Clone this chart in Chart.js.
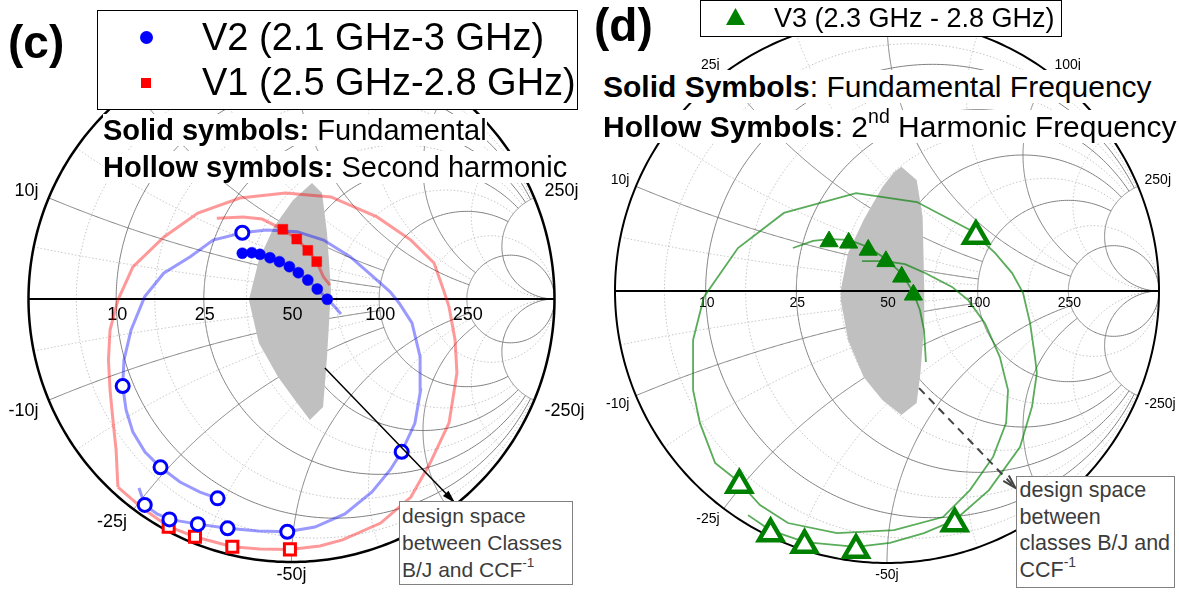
<!DOCTYPE html>
<html>
<head>
<meta charset="utf-8">
<script src="https://cdn.jsdelivr.net/npm/chart.js@4.4.0/dist/chart.umd.min.js"></script>
<style>
  body { margin: 0; background: #fff; font-family: "Liberation Sans", Arial, sans-serif; }
  #page { position: relative; width: 1179px; height: 592px; overflow: hidden; background: #fff; }
  canvas { position: absolute; top: 0; }
  .abs { position: absolute; white-space: nowrap; color: #000; }
  .tag { font-weight: bold; font-size: 46px; line-height: 46px; }
  .legend { background: #fff; border: 1px solid #000; box-sizing: border-box; }
  .note span { background: #fff; }
  .box { border: 1px solid #808080; background: #fff; color: #3c3c3c; box-sizing: border-box; }
  sup { font-size: 65%; line-height: 0; vertical-align: 0.7em; }
</style>
</head>
<body>
<div id="page">
  <canvas id="chartC" width="590" height="592" style="left:0"></canvas>
  <canvas id="chartD" width="589" height="592" style="left:590px"></canvas>

  <!-- panel (c) -->
  <div class="abs tag" style="left:8px; top:19px">(c)</div>
  <div class="abs legend" style="left:97px; top:10px; width:481px; height:100px"></div>
  <div class="abs" style="left:139.5px; top:30.5px; width:13px; height:13px; border-radius:50%; background:#0000ff"></div>
  <div class="abs" style="left:141px; top:78px; width:10px; height:10px; background:#ff0000"></div>
  <div class="abs" style="left:202px; top:17.8px; font-size:38px; line-height:38px">V2 (2.1 GHz-3 GHz)</div>
  <div class="abs" style="left:202px; top:62.8px; font-size:38px; line-height:38px">V1 (2.5 GHz-2.8 GHz)</div>
  <div class="abs note" style="left:103px; top:115.5px; font-size:29px; line-height:29px"><span><b>Solid symbols:</b> Fundamental</span></div>
  <div class="abs note" style="left:103px; top:152.5px; font-size:29px; line-height:29px"><span><b>Hollow symbols:</b> Second harmonic</span></div>
  <div class="abs box" style="left:399px; top:501px; width:174px; height:84px; font-size:21px; line-height:27px; padding-left:2px">
    design space<br>between Classes<br>B/J and CCF<sup>-1</sup>
  </div>

  <!-- panel (d) -->
  <div class="abs tag" style="left:594px; top:2px">(d)</div>
  <div class="abs legend" style="left:700px; top:0; width:362px; height:37px"></div>
  <svg class="abs" style="left:726px; top:8px" width="19" height="17"><polygon points="9.5,0 19,17 0,17" fill="#008000"/></svg>
  <div class="abs" style="left:774px; top:5.1px; font-size:27px; line-height:27px">V3 (2.3 GHz - 2.8 GHz)</div>
  <div class="abs note" style="left:603px; top:71.6px; font-size:30px; line-height:30px"><span><b>Solid Symbols</b>: Fundamental Frequency</span></div>
  <div class="abs note" style="left:603px; top:111.6px; font-size:30px; line-height:30px"><span><b>Hollow Symbols</b>: 2<sup>nd</sup> Harmonic Frequency</span></div>
  <div class="abs box" style="left:1016px; top:476px; width:159px; height:112px; font-size:21.5px; line-height:26.7px; padding-left:2.5px">
    design space<br>between<br>classes B/J and<br>CCF<sup>-1</sup>
  </div>
</div>

<script>
'use strict';

// Smith chart grid (normalised to 50 ohm)
const majorValues = [0.2, 0.5, 1, 2, 5];
const majorResistanceClip = [5, 5, 5, 5, Infinity];
const majorReactanceClip = [2, 2, 5, 5, Infinity];
const minorValues = [0.1, 0.316, 0.707, 1.414, 3.16];
const minorResistanceClip = [5, 5, 5, 5, Infinity];
const minorReactanceClip = [2, 2, 2, 5, Infinity];
const resistanceLabels = ['10', '25', '50', '100', '250'];
const reactanceLabels = ['10j', '25j', '50j', '100j', '250j'];

// panel (c): reflection coefficient readings [re, im]
const v2Fundamental = [[-0.187, 0.174], [-0.151, 0.176], [-0.120, 0.170], [-0.082, 0.157], [-0.046, 0.142],
  [-0.008, 0.123], [0.026, 0.100], [0.062, 0.072], [0.098, 0.038], [0.136, -0.001]];
const v2Harmonic = [[-0.558, -0.783], [-0.464, -0.838], [-0.356, -0.856], [-0.243, -0.872], [-0.016, -0.885],
  [0.419, -0.581], [-0.187, 0.252], [-0.642, -0.331], [-0.498, -0.640], [-0.281, -0.758]];
const v1Fundamental = [[-0.033, 0.265], [0.020, 0.228], [0.062, 0.185], [0.096, 0.142]];
const v1Harmonic = [[-0.467, -0.866], [-0.367, -0.904], [-0.225, -0.942], [-0.006, -0.952]];

const v2FundSweep = [[-0.187, 0.174], [-0.151, 0.176], [-0.120, 0.170], [-0.082, 0.157], [-0.046, 0.142],
  [-0.008, 0.123], [0.026, 0.100], [0.062, 0.072], [0.098, 0.038], [0.136, -0.001], [0.162, -0.027], [0.188, -0.057]];
const v1FundSweep = [[-0.284, 0.307], [-0.184, 0.312], [-0.112, 0.304], [-0.033, 0.265], [0.020, 0.228],
  [0.062, 0.185], [0.096, 0.142], [0.121, 0.085], [0.146, 0.053]];
const v2HarmSweep = [[-0.580, -0.719], [-0.558, -0.783], [-0.511, -0.817], [-0.464, -0.838], [-0.356, -0.856],
  [-0.243, -0.872], [-0.127, -0.882], [-0.016, -0.885], [0.089, -0.867], [0.203, -0.817], [0.306, -0.734],
  [0.375, -0.650], [0.419, -0.581], [0.469, -0.473], [0.491, -0.346], [0.489, -0.219], [0.458, -0.091],
  [0.409, -0.015], [0.375, 0.027], [0.310, 0.085], [0.223, 0.161], [0.122, 0.224], [0.021, 0.256],
  [-0.095, 0.262], [-0.187, 0.252], [-0.298, 0.224], [-0.385, 0.161], [-0.486, 0.098], [-0.558, 0.009],
  [-0.610, -0.118], [-0.637, -0.232], [-0.642, -0.331], [-0.629, -0.422], [-0.603, -0.506], [-0.557, -0.582],
  [-0.498, -0.640], [-0.424, -0.696], [-0.348, -0.734], [-0.281, -0.758]];
const v1HarmSweep = [[-0.660, -0.715], [-0.568, -0.795], [-0.467, -0.866], [-0.367, -0.904], [-0.225, -0.942],
  [-0.120, -0.951], [-0.006, -0.952], [0.108, -0.939], [0.194, -0.916], [0.339, -0.852], [0.454, -0.753],
  [0.527, -0.624], [0.599, -0.471], [0.629, -0.281], [0.622, -0.156], [0.599, -0.030], [0.578, 0.034],
  [0.542, 0.137], [0.454, 0.224], [0.325, 0.312], [0.150, 0.388], [-0.023, 0.403], [-0.196, 0.384],
  [-0.356, 0.327], [-0.485, 0.236], [-0.603, 0.122], [-0.660, -0.004], [-0.690, -0.118], [-0.696, -0.232],
  [-0.690, -0.346], [-0.679, -0.460], [-0.667, -0.574], [-0.660, -0.715]];
const designSpaceC = [[0.078, 0.441], [0.116, 0.403], [0.135, 0.251], [0.150, 0.034], [0.135, -0.221],
  [0.120, -0.411], [0.070, -0.460], [0.021, -0.395], [-0.051, -0.297], [-0.124, -0.167], [-0.162, -0.004],
  [-0.124, 0.148], [-0.067, 0.274], [0.006, 0.376]];
const arrowC = [[0.127, -0.262], [0.622, -0.776]];

// panel (d)
const v3Fundamental = [[-0.213, 0.182], [-0.141, 0.177], [-0.069, 0.151], [-0.004, 0.109], [0.054, 0.052], [0.097, -0.014]];
const v3Harmonic = [[0.327, 0.202], [-0.543, -0.713], [-0.428, -0.892], [-0.303, -0.934], [-0.114, -0.952], [0.249, -0.855]];
const v3FundSweep = [[-0.346, 0.158], [-0.272, 0.184], [-0.213, 0.191], [-0.140, 0.188], [-0.070, 0.162],
  [-0.004, 0.118], [0.055, 0.063], [0.096, -0.004], [0.121, -0.070], [0.136, -0.143], [0.143, -0.261]];
const v3HarmSweep = [[-0.092, 0.110], [-0.007, 0.110], [0.066, 0.099], [0.140, 0.066], [0.239, 0.015],
  [0.298, -0.033], [0.360, -0.118], [0.415, -0.243], [0.445, -0.364], [0.438, -0.485], [0.390, -0.610],
  [0.305, -0.732], [0.206, -0.831], [0.026, -0.879], [-0.184, -0.890], [-0.364, -0.853], [-0.467, -0.787],
  [-0.544, -0.702], [-0.632, -0.632], [-0.688, -0.485], [-0.713, -0.364], [-0.713, -0.180], [-0.673, -0.022],
  [-0.548, 0.158], [-0.379, 0.287], [-0.114, 0.360], [0.110, 0.327], [0.305, 0.224], [0.397, 0.140],
  [0.460, 0.066], [0.500, -0.007], [0.526, -0.118], [0.544, -0.243], [0.551, -0.301], [0.533, -0.426],
  [0.489, -0.574], [0.375, -0.732], [0.250, -0.842], [0.136, -0.890], [0.011, -0.926], [-0.114, -0.941],
  [-0.301, -0.923], [-0.430, -0.879], [-0.511, -0.824]];
const designSpaceD = [[0.053, 0.457], [0.109, 0.408], [0.131, 0.273], [0.137, 0.004], [0.137, -0.118],
  [0.123, -0.301], [0.109, -0.412], [0.053, -0.456], [-0.017, -0.401], [-0.086, -0.316], [-0.143, -0.180],
  [-0.170, -0.033], [-0.170, 0.004], [-0.143, 0.140], [-0.086, 0.261], [-0.017, 0.382], [0.026, 0.437]];
const arrowD = [[0.118, -0.357], [0.472, -0.724]];

const PINK = 'rgba(255, 0, 0, 0.4)';
const LIGHT_BLUE = 'rgba(0, 0, 255, 0.4)';
const LIGHT_GREEN = 'rgba(0, 128, 0, 0.65)';

function toGamma(r, x) {
  const d = (r + 1) * (r + 1) + x * x;
  return [(r * r - 1 + x * x) / d, (2 * x) / d];
}

function stretch(w) { return w / (1 - Math.abs(w)); }
function limit(v) { return Number.isFinite(v) ? v / (1 + v) : 0.9995; }

function resistancePath(r, maxX) {
  const w = limit(maxX);
  const pts = [];
  for (let i = 0; i <= 400; i++) pts.push(toGamma(r, stretch(-w + (2 * w * i) / 400)));
  return pts;
}

function reactancePath(x, maxR) {
  const u = limit(maxR);
  const pts = [];
  for (let i = 0; i <= 300; i++) pts.push(toGamma(stretch((u * i) / 300), x));
  return pts;
}

function toPoints(list) {
  return list.map(([x, y]) => ({ x, y }));
}

function smithPlugin(style) {
  return {
    id: 'smithGrid',
    beforeDatasetsDraw(chart) {
      const { ctx, scales: { x, y } } = chart;
      const px = (p) => [x.getPixelForValue(p[0]), y.getPixelForValue(p[1])];
      const trace = (pts, close) => {
        ctx.beginPath();
        pts.forEach((p, i) => {
          const [a, b] = px(p);
          if (i) ctx.lineTo(a, b); else ctx.moveTo(a, b);
        });
        if (close) ctx.closePath();
      };

      ctx.save();
      ctx.lineWidth = 1;
      ctx.strokeStyle = '#c4c4c4';
      ctx.setLineDash([1.5, 2]);
      minorValues.forEach((v, i) => {
        trace(resistancePath(v, minorResistanceClip[i])); ctx.stroke();
        trace(reactancePath(v, minorReactanceClip[i])); ctx.stroke();
        trace(reactancePath(-v, minorReactanceClip[i])); ctx.stroke();
      });
      ctx.setLineDash([]);
      ctx.strokeStyle = '#808080';
      majorValues.forEach((v, i) => {
        trace(resistancePath(v, majorResistanceClip[i])); ctx.stroke();
        trace(reactancePath(v, majorReactanceClip[i])); ctx.stroke();
        trace(reactancePath(-v, majorReactanceClip[i])); ctx.stroke();
      });

      ctx.fillStyle = '#c0c0c0';
      trace(style.designSpace, true);
      ctx.fill();

      const rim = [];
      for (let i = 0; i <= 360; i++) rim.push([Math.cos((i * Math.PI) / 180), Math.sin((i * Math.PI) / 180)]);
      ctx.strokeStyle = '#000';
      ctx.lineWidth = style.rimWidth;
      trace(rim); ctx.stroke();
      ctx.lineWidth = style.axisWidth;
      trace([[-1, 0], [1, 0]]); ctx.stroke();

      ctx.fillStyle = '#000';
      ctx.font = `${style.fontSize}px "Liberation Sans", Arial, sans-serif`;
      ctx.textAlign = 'center';
      ctx.textBaseline = 'alphabetic';
      majorValues.forEach((v, i) => {
        const [a, b] = px([(v - 1) / (v + 1), 0]);
        ctx.fillText(resistanceLabels[i], a + 1, b + style.tickDrop);
      });
      [1, -1].forEach((sign) => {
        majorValues.forEach((v, i) => {
          const g = toGamma(0, sign * v);
          const [a, b] = px(g);
          const t = Math.atan2(g[1], g[0]);
          const c = Math.cos(t);
          const s = Math.sin(t);
          ctx.textAlign = c < -0.3 ? 'right' : c > 0.3 ? 'left' : 'center';
          ctx.textBaseline = s > 0 ? 'alphabetic' : 'top';
          ctx.fillText((sign < 0 ? '-' : '') + reactanceLabels[i], a + c * style.offX, b - s * style.offY);
        });
      });
      ctx.restore();
    },
    afterDatasetsDraw(chart) {
      const { ctx, scales: { x, y } } = chart;
      const from = [x.getPixelForValue(style.arrow[0][0]), y.getPixelForValue(style.arrow[0][1])];
      const to = [x.getPixelForValue(style.arrow[1][0]), y.getPixelForValue(style.arrow[1][1])];
      const ang = Math.atan2(to[1] - from[1], to[0] - from[0]);
      const head = 14;
      const left = [to[0] - head * Math.cos(ang - 0.28), to[1] - head * Math.sin(ang - 0.28)];
      const right = [to[0] - head * Math.cos(ang + 0.28), to[1] - head * Math.sin(ang + 0.28)];
      ctx.save();
      ctx.strokeStyle = style.arrowColor;
      ctx.fillStyle = style.arrowColor;
      ctx.lineWidth = style.arrowWidth;
      ctx.setLineDash(style.arrowDash);
      ctx.beginPath();
      ctx.moveTo(from[0], from[1]);
      ctx.lineTo(to[0], to[1]);
      ctx.stroke();
      ctx.setLineDash([]);
      ctx.beginPath();
      ctx.moveTo(left[0], left[1]);
      ctx.lineTo(to[0], to[1]);
      ctx.lineTo(right[0], right[1]);
      if (style.arrowFilled) { ctx.closePath(); ctx.fill(); } else { ctx.stroke(); }
      ctx.restore();
    },
  };
}

function sweep(data, color, width) {
  return { data: toPoints(data), showLine: true, borderColor: color, borderWidth: width, pointRadius: 0, fill: false, order: 2 };
}

function markers(data, shape, radius, fill, edge, edgeWidth) {
  return {
    data: toPoints(data), showLine: false, pointStyle: shape, pointRadius: radius,
    pointBackgroundColor: fill, pointBorderColor: edge, pointBorderWidth: edgeWidth, order: 1,
  };
}

function buildChart(canvasId, panel, datasets, style) {
  const canvas = document.getElementById(canvasId);
  return new Chart(canvas, {
    type: 'scatter',
    data: { datasets },
    options: {
      responsive: false,
      animation: false,
      events: [],
      layout: { padding: 0, autoPadding: false },
      scales: {
        x: { type: 'linear', display: false, min: -panel.cx / panel.radius, max: (panel.width - panel.cx) / panel.radius },
        y: { type: 'linear', display: false, min: -(panel.height - panel.cy) / panel.radius, max: panel.cy / panel.radius },
      },
      plugins: { legend: { display: false }, tooltip: { enabled: false } },
    },
    plugins: [smithPlugin(style)],
  });
}

buildChart('chartC', { cx: 291.5, cy: 299, radius: 263, width: 590, height: 592 }, [
  sweep(v1HarmSweep, PINK, 3),
  sweep(v2HarmSweep, LIGHT_BLUE, 3),
  sweep(v1FundSweep, PINK, 3),
  sweep(v2FundSweep, LIGHT_BLUE, 3),
  markers(v2Harmonic, 'circle', 6.5, '#ffffff', '#0000ff', 3),
  markers(v1Harmonic, 'rect', 7.8, '#ffffff', '#ff0000', 3),
  markers(v2Fundamental, 'circle', 5.5, '#0000ff', '#0000ff', 0.5),
  markers(v1Fundamental, 'rect', 7, '#ff0000', '#ff0000', 0.5),
], {
  designSpace: designSpaceC, rimWidth: 2.5, axisWidth: 2, fontSize: 18, tickDrop: 21, offX: 11, offY: 4,
  arrow: arrowC, arrowColor: '#000', arrowWidth: 1.5, arrowDash: [], arrowFilled: true,
});

buildChart('chartD', { cx: 297, cy: 291, radius: 272, width: 589, height: 592 }, [
  sweep(v3HarmSweep, LIGHT_GREEN, 1.8),
  sweep(v3FundSweep, LIGHT_GREEN, 1.8),
  markers(v3Harmonic, 'triangle', 13.5, '#ffffff', '#008000', 4.5),
  markers(v3Fundamental, 'triangle', 10.5, '#008000', '#008000', 1),
], {
  designSpace: designSpaceD, rimWidth: 2, axisWidth: 1.8, fontSize: 14, tickDrop: 16, offX: 7, offY: 5,
  arrow: arrowD, arrowColor: '#444', arrowWidth: 2, arrowDash: [8, 6], arrowFilled: false,
});
</script>
</body>
</html>
